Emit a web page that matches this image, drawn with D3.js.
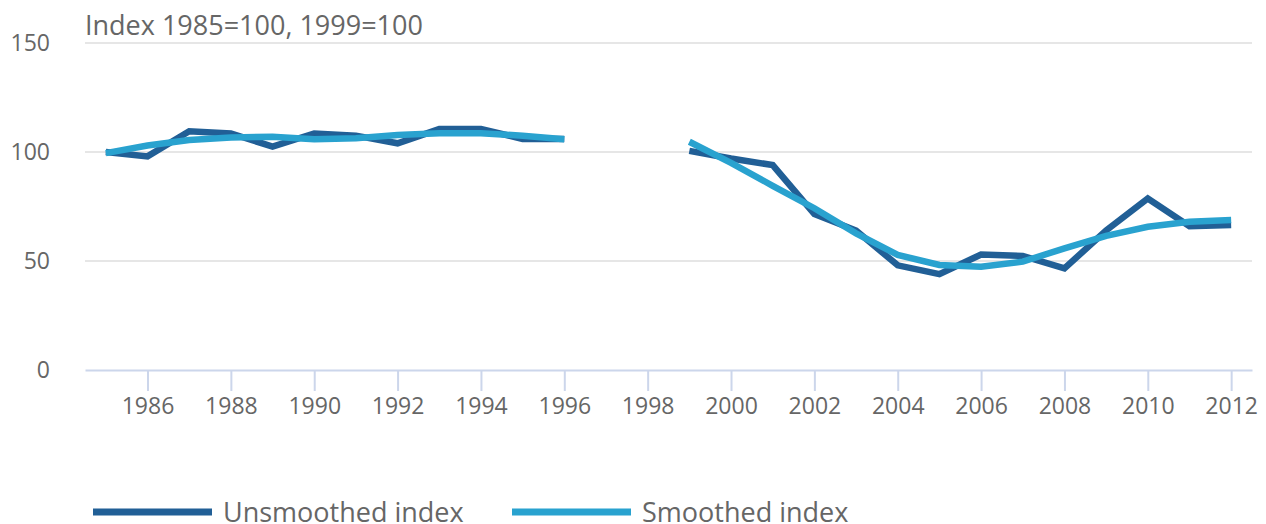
<!DOCTYPE html>
<html>
<head>
<meta charset="utf-8">
<script src="https://cdn.jsdelivr.net/npm/d3@7"></script>
<style>
  html, body { margin: 0; padding: 0; background: #fff; }
  svg { display: block; font-family: "Open Sans", sans-serif; }
</style>
</head>
<body>
<svg id="chart" width="1266" height="524"></svg>
<script>
const years = [1985,1986,1987,1988,1989,1990,1991,1992,1993,1994,1995,1996,1997,1998,1999,2000,2001,2002,2003,2004,2005,2006,2007,2008,2009,2010,2011,2012];
const unsmoothed = [100,98,109.5,108.5,102.5,108.5,107.5,104,110.5,110.5,106,106,null,null,100.5,97,94,71.5,64,48,44,53,52.3,46.6,64,78.7,66,66.5];
const smoothed = [99.5,103,105.5,106.7,107,105.8,106.3,107.8,108.6,108.6,107.5,105.8,null,null,104.7,95,84.5,74.2,62.7,52.8,48.2,47.4,49.7,55.8,61.5,65.7,68,68.8];
const yTicks = [0,50,100,150];
const xTicks = [1986,1988,1990,1992,1994,1996,1998,2000,2002,2004,2006,2008,2010,2012];
const seriesNames = ["Unsmoothed index","Smoothed index"];
const colors = ["#215f96","#29a2cf"];
const title = "Index 1985=100, 1999=100";

const svg = d3.select("#chart");
const mLeft = 85, mRight = 1252, mTop = 43, mBottom = 370;
const x = d3.scaleLinear().domain([1984.5, 2012.5]).range([mLeft, mRight]);
const y = d3.scaleLinear().domain([0, 150]).range([mBottom, mTop]);

// gridlines
svg.append("g").selectAll("line").data(yTicks.filter(d => d > 0)).join("line")
  .attr("x1", mLeft).attr("x2", mRight)
  .attr("y1", d => y(d)).attr("y2", d => y(d))
  .attr("stroke", "#e6e6e6").attr("stroke-width", 2);

// y labels
svg.append("g").selectAll("text").data(yTicks).join("text")
  .attr("x", 50).attr("y", d => y(d) + 8)
  .attr("text-anchor", "end")
  .attr("font-size", 23).attr("fill", "#666")
  .text(d => d);

// x axis
const xAxis = d3.axisBottom(x).tickValues(xTicks).tickFormat(d3.format("d")).tickSize(21).tickSizeOuter(0);
const gx = svg.append("g").attr("transform", `translate(0,${mBottom})`).call(xAxis);
gx.select(".domain").attr("stroke", "#ccd6eb").attr("stroke-width", 2);
gx.selectAll(".tick line").attr("stroke", "#ccd6eb").attr("stroke-width", 2);
gx.selectAll(".tick text").attr("font-size", 23).attr("fill", "#666")
  .attr("font-family", "Open Sans, sans-serif").attr("dy", 0).attr("y", 44);

// lines
const data = [unsmoothed, smoothed];
data.forEach((vals, i) => {
  const line = d3.line()
    .defined(d => d[1] !== null)
    .x(d => x(d[0])).y(d => y(d[1]));
  svg.append("path")
    .datum(years.map((yr, j) => [yr, vals[j]]))
    .attr("d", line)
    .attr("fill", "none")
    .attr("stroke", colors[i])
    .attr("stroke-width", 6.5)
    .attr("stroke-linejoin", "miter")
    .attr("stroke-linecap", "butt");
});

// title
svg.append("text").attr("x", 85).attr("y", 35)
  .attr("font-size", 27).attr("fill", "#666").text(title);

// legend
const legendX = [93, 512];
seriesNames.forEach((name, i) => {
  const g = svg.append("g");
  g.append("line").attr("x1", legendX[i]).attr("x2", legendX[i] + 119)
    .attr("y1", 512).attr("y2", 512)
    .attr("stroke", colors[i]).attr("stroke-width", 7);
  g.append("text").attr("x", legendX[i] + 130).attr("y", 522)
    .attr("font-size", 27).attr("fill", "#666").text(name);
});
</script>
</body>
</html>
